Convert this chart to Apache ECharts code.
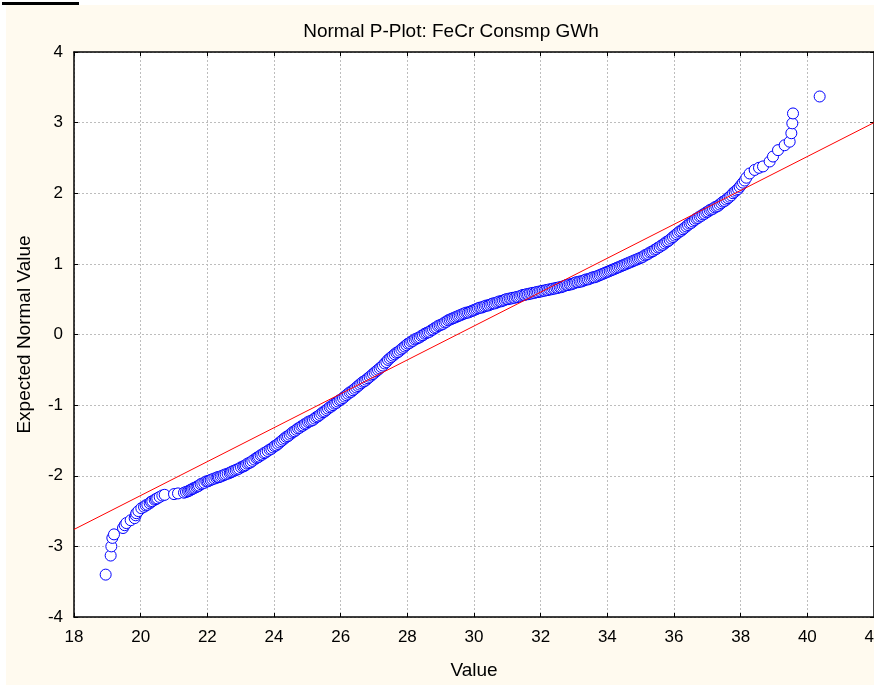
<!DOCTYPE html>
<html>
<head>
<meta charset="utf-8">
<title>Normal P-Plot: FeCr Consmp GWh</title>
<script src="https://cdn.jsdelivr.net/npm/echarts@6/dist/echarts.min.js"></script>
<style>
  html, body { margin: 0; padding: 0; background: #ffffff; }
  #chart { width: 874px; height: 685px; }
</style>
</head>
<body>
<div id="chart"></div>
<script>
// Observed consumption values (GWh), sorted ascending
const sampleValues = [
  18.95, 19.10, 19.12, 19.15, 19.20, 19.47, 19.52, 19.57, 19.70, 19.82,
  19.85, 19.87, 19.93, 20.02, 20.10, 20.15, 20.20, 20.27, 20.31, 20.35,
  20.42, 20.46, 20.50, 20.57, 20.65, 20.72, 21.00, 21.12, 21.30, 21.36,
  21.42, 21.46, 21.50, 21.54, 21.58, 21.62, 21.67, 21.71, 21.75, 21.80,
  21.85, 21.91, 21.97, 22.01, 22.05, 22.10, 22.15, 22.21, 22.27, 22.31,
  22.35, 22.40, 22.45, 22.50, 22.55, 22.61, 22.67, 22.71, 22.75, 22.80,
  22.85, 22.90, 22.95, 23.01, 23.07, 23.11, 23.15, 23.20, 23.25, 23.30,
  23.35, 23.41, 23.47, 23.51, 23.55, 23.60, 23.65, 23.70, 23.75, 23.81,
  23.87, 23.92, 23.97,
  24.02, 24.07, 24.12, 24.17, 24.22, 24.27, 24.32, 24.37, 24.42, 24.47,
  24.52, 24.57, 24.62, 24.67, 24.72, 24.77, 24.82, 24.87, 24.92, 24.97,
  25.02, 25.07, 25.12, 25.17, 25.22, 25.27, 25.32, 25.37, 25.42, 25.47,
  25.52, 25.57, 25.62, 25.67, 25.72, 25.77, 25.82, 25.87, 25.92, 25.97,
  26.02, 26.07, 26.12, 26.17, 26.22, 26.27, 26.32, 26.37, 26.42, 26.47,
  26.52, 26.57, 26.62, 26.67, 26.72, 26.77, 26.82, 26.87, 26.92, 26.97,
  27.02, 27.07, 27.12, 27.17, 27.22, 27.27, 27.32, 27.37, 27.42, 27.47,
  27.52, 27.57, 27.62, 27.67, 27.72, 27.77, 27.82, 27.87, 27.92, 27.97,
  28.02, 28.07, 28.12, 28.17, 28.22, 28.27, 28.32, 28.37, 28.42, 28.47,
  28.52, 28.57, 28.62, 28.67, 28.72, 28.77, 28.82, 28.87, 28.92, 28.97,
  29.02, 29.07, 29.12, 29.17, 29.22, 29.27, 29.32, 29.37, 29.42, 29.47,
  29.52, 29.57, 29.62, 29.67, 29.72, 29.77, 29.82, 29.87, 29.92, 29.97,
  30.02, 30.07, 30.12, 30.17, 30.22, 30.27, 30.32, 30.37, 30.42, 30.47,
  30.52, 30.57, 30.62, 30.67, 30.72, 30.77, 30.82, 30.87, 30.92, 30.97,
  31.02, 31.07, 31.12, 31.17, 31.22, 31.27, 31.32, 31.37, 31.42, 31.47,
  31.52, 31.57, 31.62, 31.67, 31.72, 31.77, 31.82, 31.87, 31.92, 31.97,
  32.02, 32.07, 32.12, 32.17, 32.22, 32.27, 32.32, 32.37, 32.42, 32.47,
  32.52, 32.57, 32.62, 32.67, 32.72, 32.77, 32.82, 32.87, 32.92, 32.97,
  33.02, 33.07, 33.12, 33.17, 33.22, 33.27, 33.32, 33.37, 33.42, 33.47,
  33.52, 33.57, 33.62, 33.67, 33.72, 33.77, 33.82, 33.87, 33.92, 33.97,
  34.02, 34.07, 34.12, 34.17, 34.22, 34.27, 34.32, 34.37, 34.42, 34.47,
  34.52, 34.57, 34.62, 34.67, 34.72, 34.77, 34.82, 34.87, 34.92, 34.97,
  35.02, 35.07, 35.12, 35.17, 35.22, 35.27, 35.32, 35.37, 35.42, 35.47,
  35.52, 35.57, 35.62, 35.67, 35.72, 35.77, 35.82, 35.87, 35.92, 35.97,
  36.02, 36.07, 36.12, 36.17, 36.22, 36.27, 36.32, 36.37, 36.42, 36.47,
  36.52, 36.57, 36.62, 36.67, 36.72, 36.77, 36.82, 36.87, 36.92, 36.97,
  37.02, 37.07, 37.12, 37.17, 37.22, 37.27, 37.32, 37.37, 37.42, 37.47,
  37.52, 37.57, 37.62, 37.67, 37.72, 37.77, 37.82, 37.87, 37.92, 37.97,
  38.02, 38.07, 38.12, 38.17, 38.27, 38.42, 38.55, 38.67, 38.87, 38.97,
  39.12, 39.32, 39.47, 39.52, 39.55, 39.57, 40.37
];

// Expected normal value for each observation (same order)
const expectedNormal = [
  -3.40, -3.13, -3.00, -2.88, -2.83, -2.74, -2.70, -2.67, -2.63, -2.60,
  -2.56, -2.53, -2.50, -2.46, -2.44, -2.42, -2.41, -2.39, -2.37, -2.36,
  -2.34, -2.33, -2.32, -2.30, -2.28, -2.27, -2.26, -2.25, -2.24, -2.23,
  -2.22, -2.21, -2.20, -2.19, -2.18, -2.17, -2.16, -2.15, -2.14, -2.12,
  -2.11, -2.10, -2.08, -2.08, -2.07, -2.06, -2.05, -2.04, -2.03, -2.02,
  -2.02, -2.01, -2.00, -1.99, -1.98, -1.97, -1.96, -1.95, -1.94, -1.93,
  -1.92, -1.91, -1.90, -1.88, -1.87, -1.86, -1.85, -1.83, -1.82, -1.81,
  -1.79, -1.77, -1.75, -1.74, -1.73, -1.71, -1.70, -1.68, -1.67, -1.65,
  -1.63, -1.62, -1.60,
  -1.58, -1.57, -1.55, -1.53, -1.51, -1.49, -1.47, -1.45, -1.44, -1.42,
  -1.40, -1.38, -1.37, -1.35, -1.33, -1.32, -1.30, -1.29, -1.27, -1.26,
  -1.24, -1.23, -1.22, -1.21, -1.19, -1.17, -1.16, -1.14, -1.12, -1.10,
  -1.09, -1.07, -1.05, -1.03, -1.02, -1.00, -0.98, -0.97, -0.95, -0.93,
  -0.92, -0.90, -0.88, -0.86, -0.84, -0.82, -0.81, -0.79, -0.77, -0.75,
  -0.73, -0.71, -0.69, -0.67, -0.66, -0.64, -0.62, -0.60, -0.58, -0.56,
  -0.54, -0.52, -0.50, -0.48, -0.46, -0.44, -0.41, -0.39, -0.36, -0.34,
  -0.32, -0.30, -0.28, -0.26, -0.25, -0.23, -0.21, -0.19, -0.17, -0.15,
  -0.13, -0.12, -0.10, -0.09, -0.07, -0.06, -0.05, -0.04, -0.02, -0.01,
  0.01, 0.02, 0.03, 0.04, 0.06, 0.07, 0.09, 0.10, 0.12, 0.13,
  0.14, 0.15, 0.17, 0.18, 0.20, 0.21, 0.22, 0.23, 0.24, 0.25,
  0.26, 0.27, 0.28, 0.29, 0.30, 0.31, 0.31, 0.32, 0.33, 0.34,
  0.35, 0.36, 0.37, 0.38, 0.38, 0.39, 0.40, 0.41, 0.41, 0.42,
  0.43, 0.44, 0.44, 0.45, 0.46, 0.47, 0.47, 0.48, 0.49, 0.50,
  0.50, 0.51, 0.51, 0.52, 0.52, 0.53, 0.53, 0.54, 0.55, 0.56,
  0.56, 0.57, 0.57, 0.58, 0.58, 0.59, 0.59, 0.60, 0.60, 0.61,
  0.61, 0.62, 0.62, 0.63, 0.63, 0.64, 0.64, 0.65, 0.65, 0.66,
  0.66, 0.67, 0.67, 0.68, 0.69, 0.70, 0.70, 0.71, 0.71, 0.72,
  0.73, 0.74, 0.74, 0.75, 0.75, 0.76, 0.77, 0.78, 0.78, 0.79,
  0.80, 0.81, 0.81, 0.82, 0.83, 0.84, 0.85, 0.86, 0.87, 0.88,
  0.89, 0.90, 0.91, 0.92, 0.93, 0.94, 0.95, 0.96, 0.97, 0.98,
  0.99, 1.00, 1.01, 1.02, 1.03, 1.04, 1.05, 1.06, 1.07, 1.08,
  1.09, 1.10, 1.12, 1.13, 1.14, 1.16, 1.17, 1.18, 1.20, 1.21,
  1.23, 1.24, 1.26, 1.27, 1.29, 1.31, 1.32, 1.34, 1.36, 1.38,
  1.40, 1.42, 1.44, 1.46, 1.47, 1.49, 1.51, 1.53, 1.55, 1.57,
  1.58, 1.60, 1.62, 1.64, 1.65, 1.67, 1.68, 1.70, 1.71, 1.73,
  1.74, 1.76, 1.77, 1.78, 1.80, 1.81, 1.82, 1.84, 1.86, 1.88,
  1.89, 1.91, 1.93, 1.95, 1.97, 2.00, 2.02, 2.04, 2.06, 2.09,
  2.12, 2.15, 2.18, 2.22, 2.28, 2.33, 2.36, 2.38, 2.45, 2.52,
  2.61, 2.68, 2.73, 2.85, 2.99, 3.13, 3.37
];

// Reference normal line end points [value, expected normal]
const fitLineX = [18, 42];
const fitLineY = [-2.76, 3.00];

// Axis ranges and ticks
const xTicks = { min: 18, max: 42, step: 2 };
const yTicks = { min: -4, max: 4, step: 1 };

const titleText = 'Normal P-Plot: FeCr Consmp GWh';
const xName = 'Value';
const yName = 'Expected Normal Value';

const points = sampleValues.map((v, i) => [v, expectedNormal[i]]);
const linePts = fitLineX.map((v, i) => [v, fitLineY[i]]);

const FONT = 'Liberation Sans, Arial, sans-serif';
const chart = echarts.init(document.getElementById('chart'), null, { renderer: 'canvas' });

const gridLine = { show: true, lineStyle: { color: '#bdbdbd', type: [2, 2], width: 1 } };
const frameLine = { show: true, onZero: false, lineStyle: { color: '#000000', width: 1.5 } };
const innerTick = { show: true, inside: true, length: 4, lineStyle: { color: '#000000', width: 1 } };

chart.setOption({
  animation: false,
  backgroundColor: '#ffffff',
  graphic: [
    { type: 'rect', left: 6, top: 5, shape: { width: 868, height: 680 }, style: { fill: '#fffaef' }, z: -10, silent: true },
    { type: 'rect', left: 2, top: 2, shape: { width: 77, height: 3 }, style: { fill: '#000000' }, z: -9, silent: true }
  ],
  title: {
    text: titleText,
    left: 446,
    textAlign: 'center',
    top: 17,
    textStyle: { fontFamily: FONT, fontSize: 19, fontWeight: 'normal', color: '#000000' }
  },
  grid: {
    left: 74, top: 52, right: 0, bottom: 68,
    containLabel: false,
    outerBoundsMode: 'none',
    show: true, backgroundColor: '#ffffff', borderWidth: 0
  },
  xAxis: [
    {
      type: 'value', position: 'bottom',
      min: xTicks.min, max: xTicks.max, interval: xTicks.step,
      axisLine: frameLine, axisTick: innerTick, splitLine: gridLine,
      axisLabel: { fontFamily: FONT, fontSize: 17, color: '#000000', margin: 12, showMaxLabel: true, hideOverlap: false },
      name: xName, nameLocation: 'middle', nameGap: 44,
      nameTextStyle: { fontFamily: FONT, fontSize: 19, color: '#000000' }
    },
    {
      type: 'value', position: 'top',
      min: xTicks.min, max: xTicks.max, interval: xTicks.step,
      axisLine: frameLine, axisTick: innerTick, splitLine: { show: false },
      axisLabel: { show: false }
    }
  ],
  yAxis: [
    {
      type: 'value', position: 'left',
      min: yTicks.min, max: yTicks.max, interval: yTicks.step,
      axisLine: frameLine, axisTick: innerTick, splitLine: gridLine,
      axisLabel: { fontFamily: FONT, fontSize: 17, color: '#000000', margin: 11 },
      name: yName, nameLocation: 'middle', nameGap: 40,
      nameTextStyle: { fontFamily: FONT, fontSize: 19, color: '#000000' }
    },
    {
      type: 'value', position: 'right',
      min: yTicks.min, max: yTicks.max, interval: yTicks.step,
      axisLine: frameLine, axisTick: innerTick, splitLine: { show: false },
      axisLabel: { show: false }
    }
  ],
  series: [
    {
      type: 'scatter',
      xAxisIndex: 0, yAxisIndex: 0,
      data: points,
      symbol: 'circle',
      symbolSize: 11,
      itemStyle: { color: '#ffffff', borderColor: '#0000ff', borderWidth: 1, opacity: 1 },
      z: 2
    },
    {
      type: 'line',
      xAxisIndex: 0, yAxisIndex: 0,
      data: linePts,
      symbol: 'none',
      lineStyle: { color: '#ff0000', width: 1 },
      z: 3
    }
  ]
});
</script>
</body>
</html>
